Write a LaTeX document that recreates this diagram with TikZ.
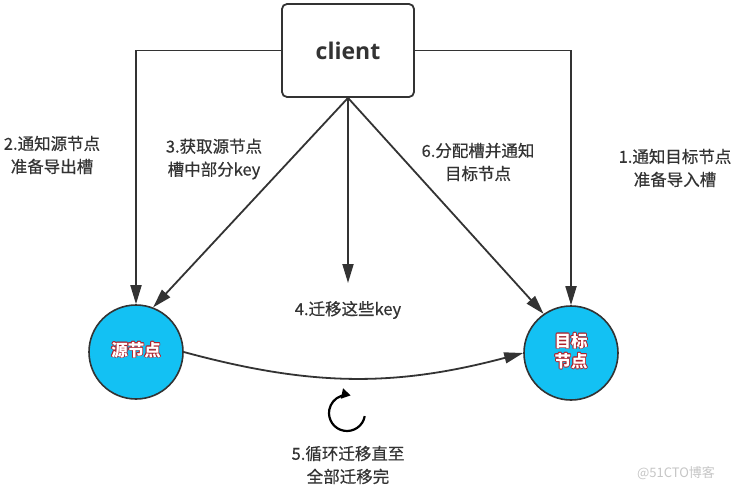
\documentclass[tikz,border=0pt]{standalone}
\usepackage{fontspec}
\setmainfont{Noto Sans CJK SC}
\newfontfamily\lblfont{Noto Sans CJK SC}[FakeBold=0.5]
\newfontfamily\latinbold{Open Sans}
\usetikzlibrary{arrows.meta}
\definecolor{ink}{HTML}{333333}
\definecolor{nodecyan}{HTML}{13C1F3}
\definecolor{rimred}{HTML}{B0202A}
\newcommand\rimcopy[3]{\rlap{\kern#1\raisebox{#2}{\color{rimred}\begin{tabular}[b]{@{}c@{}}#3\end{tabular}}}}
\newcommand\rimmed[1]{\leavevmode
  \rimcopy{0.9pt}{0pt}{#1}\rimcopy{-0.9pt}{0pt}{#1}%
  \rimcopy{0pt}{0.9pt}{#1}\rimcopy{0pt}{-0.9pt}{#1}%
  \rimcopy{0.64pt}{0.64pt}{#1}\rimcopy{-0.64pt}{0.64pt}{#1}%
  \rimcopy{0.64pt}{-0.64pt}{#1}\rimcopy{-0.64pt}{-0.64pt}{#1}%
  {\color{white}\begin{tabular}[b]{@{}c@{}}#1\end{tabular}}}
\begin{document}
\begin{tikzpicture}[x=1pt,y=-1pt,
  line/.style={draw=ink, line width=1.8pt},
  tip/.style={-{Triangle[length=19pt,width=11pt]}},
  lbl/.style={text=ink, font=\lblfont\fontsize{16.5}{23}\selectfont, align=center, inner sep=0pt},
  nodec/.style={circle, fill=nodecyan, draw=ink, line width=1.6pt, minimum size=94pt, inner sep=0pt,
                font=\bfseries\fontsize{16.5}{20}\selectfont}]
\fill[white] (0,0) rectangle (735,490);
\useasboundingbox (0,0) rectangle (735,490);
\node[draw=ink, line width=1.8pt, rounded corners=5pt, minimum width=132pt, minimum height=93pt,
      font=\latinbold\bfseries\fontsize{23}{28}\selectfont, text=ink] (client) at (348,50.5) {client};
\node[nodec] (src) at (136,352) {\rimmed{源节点}};
\node[nodec] (tgt) at (571,353) {\rimmed{目标\\节点}};
\coordinate (mid) at (348,283);
\draw[line, tip] (client.west) -| (src.north);
\draw[line, tip] (client.east) -| (tgt.north);
\draw[line, tip] (client.south) -- (src.69);
\draw[line, tip] (client.south) -- (tgt.125);
\draw[line, tip] (client.south) -- (mid);
\draw[line, tip] (src.east) to[bend right=15] (tgt.west);
\coordinate (loopc) at (347,413);
\draw[black, line width=2.2pt, -{Triangle[length=9pt,width=10pt]}] ([shift={(10:18)}]loopc) arc[start angle=10, end angle=282, radius=18];
\node[lbl] (l2) at (52,155) {2.通知源节点\\准备导出槽};
\node[lbl] (l3) at (214,159) {3.获取源节点\\槽中部分key};
\node[lbl] (l6) at (478,162) {6.分配槽并通知\\目标节点};
\node[lbl] (l1) at (675,168) {1.通知目标节点\\准备导入槽};
\node[lbl] (l4) at (348,310) {4.迁移这些key};
\node[lbl] (l5) at (348,465) {5.循环迁移直至\\全部迁移完};
\node[text=gray!45, font=\fontsize{13}{15}\selectfont, inner sep=0pt] (wm) at (676,473) {@51CTO博客};
\end{tikzpicture}
\end{document}
